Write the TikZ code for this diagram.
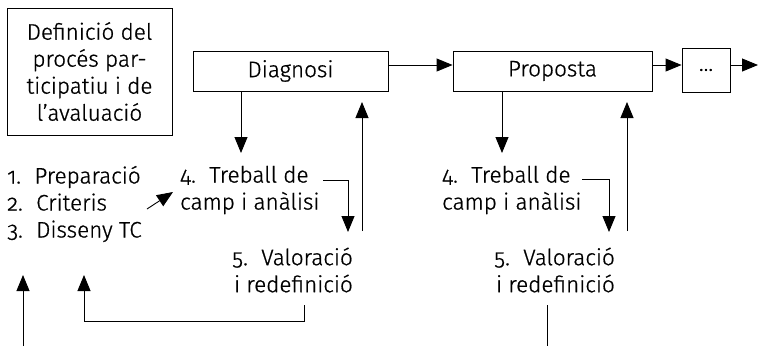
\documentclass[tikz,border=0pt]{standalone}
\usepackage{fontspec}
\setmainfont[Numbers=OldStyle,FakeBold=0.8,UprightFeatures={FakeBold=0.8}]{Fira Sans Light}
\usetikzlibrary{arrows.meta}
\begin{document}
\begin{tikzpicture}[x=1pt,y=-1pt,
  box/.style={draw,line width=0.9pt,inner sep=0pt,align=center},
  txt/.style={inner sep=0pt,align=left},
  txtr/.style={inner sep=0pt,align=right},
  arr/.style={line width=0.9pt,-{Triangle[length=16pt,width=13pt]}},
  ln/.style={line width=0.9pt},
  every node/.append style={font=\fontsize{22.5}{27}\selectfont}]
\useasboundingbox (0,0) rectangle (758,346);
% boxes
\node[box,minimum width=165pt,minimum height=127pt] (def) at (89.5,71.5)
  {Definició del\\procés par-\\ticipatiu i de\\l’avaluació};
\node[box,minimum width=195pt,minimum height=40pt] (diag) at (290.5,71) {Diagnosi};
\node[box,minimum width=199pt,minimum height=40pt] (prop) at (552.5,71) {Proposta};
\node[box,minimum width=48pt,minimum height=44pt] (dots) at (706,70) {…};
% texts
\node[txt,anchor=west] (list) at (7,204) {1.\hspace{0.6em}Preparació\\2.\hspace{0.6em}Criteris\\3.\hspace{0.6em}Disseny TC};
\node[txt,anchor=west] (tA) at (180,190) {4.\hspace{0.6em}Treball de\\camp i anàlisi};
\node[txtr,anchor=east] (vA) at (353,270) {5.\hspace{0.6em}Valoració\\i redefinició};
\node[txt,anchor=west] (tB) at (442,190) {4.\hspace{0.6em}Treball de\\camp i anàlisi};
\node[txtr,anchor=east] (vB) at (615,270) {5.\hspace{0.6em}Valoració\\i redefinició};
% free-end coordinates
\coordinate (outend) at (758,65);
\coordinate (dA) at (241,153);
\coordinate (dB) at (502,153);
\coordinate (uA) at (362,102);
\coordinate (uAb) at (362,231);
\coordinate (uB) at (627,102);
\coordinate (uBb) at (627,231);
\coordinate (lsA) at (147,209);
\coordinate (lsB) at (173,192);
\coordinate (tAe) at (323,180);
\coordinate (tAc) at (348,180);
\coordinate (tAt) at (348,232);
\coordinate (tBe) at (582,179);
\coordinate (tBc) at (609,179);
\coordinate (tBt) at (609,232);
\coordinate (fb1) at (304,305);
\coordinate (fb2) at (304,321);
\coordinate (fb3) at (84,321);
\coordinate (fb4) at (84,275);
\coordinate (bu1) at (23,346);
\coordinate (bu2) at (23,275);
\coordinate (bl1) at (547,305);
\coordinate (bl2) at (547,346);
% connectors
\draw[arr] ([yshift=6pt]diag.east) -- ([yshift=6pt]prop.west);
\draw[arr] ([yshift=6pt]prop.east) -- ([yshift=6pt]prop.east -| dots.west);
\draw[arr] ([yshift=6pt]prop.east -| dots.east) -- (outend);
\draw[arr] (diag.south -| dA) -- (dA);
\draw[arr] (prop.south -| dB) -- (dB);
\draw[arr] (uAb) -- (uA);
\draw[arr] (uBb) -- (uB);
\draw[arr] (lsA) -- (lsB);
\draw[arr] (tAe) -- (tAc) -- (tAt);
\draw[arr] (tBe) -- (tBc) -- (tBt);
\draw[arr] (fb1) -- (fb2) -- (fb3) -- (fb4);
\draw[arr] (bu1) -- (bu2);
\draw[ln] (bl1) -- (bl2);
\end{tikzpicture}
\end{document}
